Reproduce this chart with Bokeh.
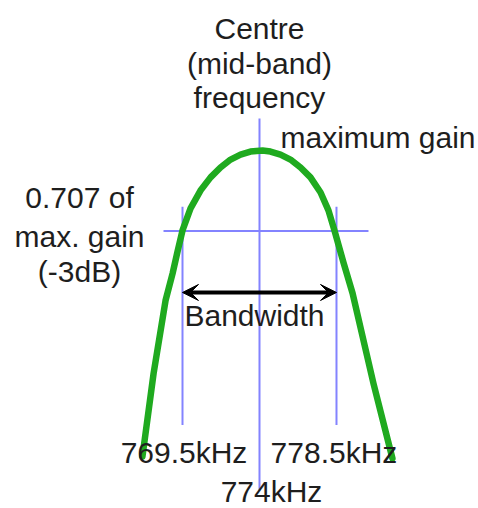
from bokeh.plotting import figure
from bokeh.models import Range1d, Arrow, VeeHead
from bokeh.core.properties import value
from bokeh.embed import file_html
from bokeh.resources import INLINE

# ---- data (frequency in kHz, gain relative to maximum) ----
centre_khz = 774.0
lower_khz = 769.5
upper_khz = 778.5
half_power_gain = 0.707
max_gain = 1.0

curve_khz = [767.16, 767.81, 768.51, 768.92, 769.21, 769.50, 769.97, 770.55,
             771.14, 771.72, 772.31, 772.89, 773.47, 774.18, 774.64, 775.23,
             775.81, 776.40, 776.98, 777.57, 778.03, 778.38, 778.91, 779.44,
             780.66, 781.77]
curve_gain = [-0.114, 0.188, 0.454, 0.552, 0.632, 0.709, 0.789, 0.854,
              0.902, 0.938, 0.967, 0.985, 0.996, 1.000, 0.996, 0.985,
              0.967, 0.938, 0.902, 0.847, 0.782, 0.709, 0.592, 0.480,
              0.152, -0.121]

# guide-line extents
centre_line_gain = [1.116, -0.238]
side_line_gain = [0.795, 0.0]
hline_khz = [768.39, 780.37]
arrow_gain = 0.483

freq_labels = ["769.5kHz", "778.5kHz", "774kHz"]

FONT = value("Liberation Sans")
TXT = "#1e1e1e"
BLUE = "#8383ff"
GREEN = "#1faa1f"
FS = "30px"
DY = -10  # baseline correction

p = figure(width=478, height=508,
           x_range=Range1d(758.863, 786.800), y_range=Range1d(-0.3036, 1.5461),
           output_backend="svg", toolbar_location=None, min_border=0,
           x_axis_location=None, y_axis_location=None)
p.grid.visible = False
p.outline_line_color = None
p.background_fill_color = "white"

# guide lines
p.line([centre_khz, centre_khz], centre_line_gain, line_color=BLUE, line_width=2)
p.line([lower_khz, lower_khz], side_line_gain, line_color=BLUE, line_width=2)
p.line([upper_khz, upper_khz], side_line_gain, line_color=BLUE, line_width=2)
p.line(hline_khz, [half_power_gain, half_power_gain], line_color=BLUE, line_width=2)

# response curve
p.line(curve_khz, curve_gain, line_color=GREEN, line_width=6.5,
       line_join="round", line_cap="round")

# bandwidth arrow
p.add_layout(Arrow(start=VeeHead(size=16, fill_color="black", line_color="black"),
                   end=VeeHead(size=16, fill_color="black", line_color="black"),
                   x_start=lower_khz, y_start=arrow_gain, x_end=upper_khz, y_end=arrow_gain,
                   line_color="black", line_width=4))

def label(x, y, txt, dx, dy, align="center"):
    p.text(x=[x], y=[y], text=[txt], x_offset=dx, y_offset=dy + DY,
           text_font=FONT, text_font_size=FS, text_color=TXT,
           text_align=align, text_baseline="alphabetic")

label(centre_khz, max_gain, "Centre", 0, -112)
label(centre_khz, max_gain, "(mid-band)", 0, -77)
label(centre_khz, max_gain, "frequency", 0, -43)
label(centre_khz, max_gain, "maximum gain", 21, -3, align="left")

label(lower_khz, half_power_gain, "0.707 of", -103, -23.5)
label(lower_khz, half_power_gain, "max. gain", -103, 15.5)
label(lower_khz, half_power_gain, "(-3dB)", -103, 50.5)

label(centre_khz, arrow_gain, "Bandwidth", -5, 33)

label(lower_khz, 0, freq_labels[0], 1.5, 37.3)
label(upper_khz, 0, freq_labels[1], -2.5, 37.3)
label(centre_khz, 0, freq_labels[2], 12, 76.3)

open("out.html", "w").write(file_html(p, INLINE))
